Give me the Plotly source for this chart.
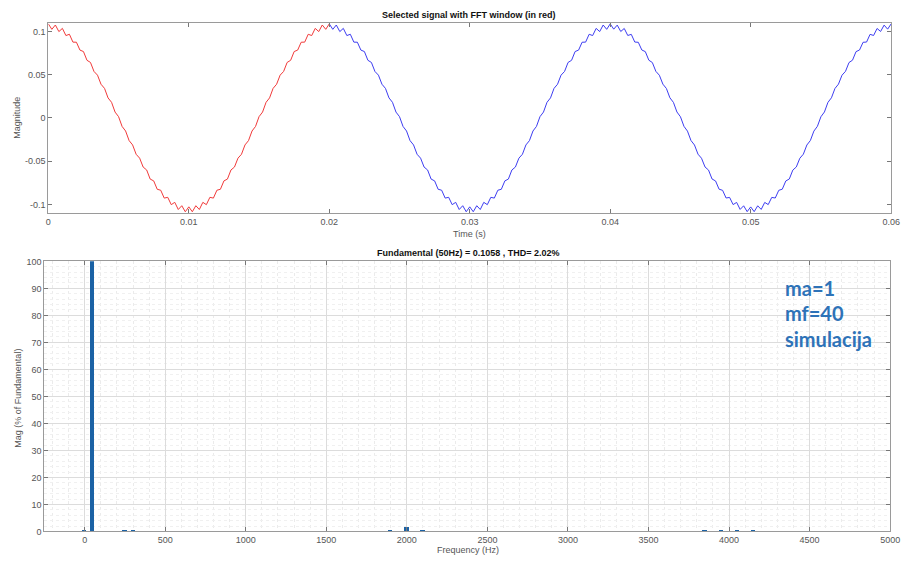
import plotly.graph_objects as go

# ---------------- data ----------------
sample_step = 0.00025  # s, sampling of the displayed signal

# FFT window (red) : 0 .. 0.02 s
signal_red = [
    0.1088, 0.1025, 0.1075, 0.0999, 0.1036, 0.0953, 0.0968, 0.0877, 0.0876, 0.0785,
    0.0768, 0.0667, 0.0642, 0.0538, 0.0495, 0.0390, 0.0342, 0.0232, 0.0181, 0.0068,
    0.0015, -0.0098, -0.0151, -0.0262, -0.0312, -0.0420, -0.0465, -0.0568, -0.0602, -0.0707,
    -0.0728, -0.0825, -0.0836, -0.0927, -0.0918, -0.1003, -0.0976, -0.1059, -0.1015, -0.1085,
    -0.1028, -0.1085, -0.1015, -0.1059, -0.0976, -0.1003, -0.0918, -0.0927, -0.0836, -0.0825,
    -0.0728, -0.0707, -0.0602, -0.0568, -0.0465, -0.0420, -0.0312, -0.0262, -0.0151, -0.0098,
    0.0015, 0.0068, 0.0181, 0.0232, 0.0342, 0.0390, 0.0495, 0.0538, 0.0642, 0.0667,
    0.0768, 0.0785, 0.0876, 0.0877, 0.0968, 0.0953, 0.1036, 0.0999, 0.1075, 0.1025,
    0.1088,
]
t_red_start = 0.0

# remainder of the signal (blue) : 0.02 .. 0.06 s
signal_blue = [
    0.1088, 0.1025, 0.1075, 0.0999, 0.1036, 0.0953, 0.0968, 0.0877, 0.0876, 0.0785,
    0.0768, 0.0667, 0.0642, 0.0538, 0.0495, 0.0390, 0.0342, 0.0232, 0.0181, 0.0068,
    0.0015, -0.0098, -0.0151, -0.0262, -0.0312, -0.0420, -0.0465, -0.0568, -0.0602, -0.0707,
    -0.0728, -0.0825, -0.0836, -0.0927, -0.0918, -0.1003, -0.0976, -0.1059, -0.1015, -0.1085,
    -0.1028, -0.1085, -0.1015, -0.1059, -0.0976, -0.1003, -0.0918, -0.0927, -0.0836, -0.0825,
    -0.0728, -0.0707, -0.0602, -0.0568, -0.0465, -0.0420, -0.0312, -0.0262, -0.0151, -0.0098,
    0.0015, 0.0068, 0.0181, 0.0232, 0.0342, 0.0390, 0.0495, 0.0538, 0.0642, 0.0667,
    0.0768, 0.0785, 0.0876, 0.0877, 0.0968, 0.0953, 0.1036, 0.0999, 0.1075, 0.1025,
    0.1088, 0.1027, 0.1074, 0.1000, 0.1035, 0.0954, 0.0967, 0.0878, 0.0875, 0.0786,
    0.0767, 0.0668, 0.0641, 0.0539, 0.0494, 0.0391, 0.0341, 0.0233, 0.0180, 0.0069,
    0.0014, -0.0097, -0.0152, -0.0261, -0.0313, -0.0419, -0.0466, -0.0567, -0.0603, -0.0706,
    -0.0729, -0.0824, -0.0837, -0.0926, -0.0919, -0.1002, -0.0977, -0.1058, -0.1016, -0.1084,
    -0.1029, -0.1084, -0.1016, -0.1058, -0.0977, -0.1002, -0.0919, -0.0926, -0.0837, -0.0824,
    -0.0729, -0.0706, -0.0603, -0.0567, -0.0466, -0.0419, -0.0313, -0.0261, -0.0152, -0.0097,
    0.0014, 0.0069, 0.0180, 0.0233, 0.0341, 0.0391, 0.0494, 0.0539, 0.0641, 0.0668,
    0.0767, 0.0786, 0.0875, 0.0878, 0.0967, 0.0954, 0.1035, 0.1000, 0.1074, 0.1027,
    0.1088,
]
t_blue_start = 0.02

time_ticks = [0, 0.01, 0.02, 0.03, 0.04, 0.05, 0.06]
time_tick_labels = ["0", "0.01", "0.02", "0.03", "0.04", "0.05", "0.06"]
mag_ticks = [-0.1, -0.05, 0, 0.05, 0.1]
mag_tick_labels = ["-0.1", "-0.05", "0", "0.05", "0.1"]

# FFT spectrum (% of fundamental)
harm_freq = [0, 50, 250, 300, 1900, 2000, 2100, 3850, 3950, 4050, 4150]
harm_mag = [0.5, 100, 0.25, 0.25, 0.5, 1.7, 0.5, 0.2, 0.2, 0.2, 0.2]

freq_ticks = [0, 500, 1000, 1500, 2000, 2500, 3000, 3500, 4000, 4500, 5000]
pct_ticks = [0, 10, 20, 30, 40, 50, 60, 70, 80, 90, 100]

title_top = "Selected signal with FFT window (in red)"
title_bottom = "Fundamental (50Hz) = 0.1058 , THD= 2.02%"
note_lines = ["ma=1", "mf=40", "simulacija"]

# ---------------- figure ----------------
W, H = 911, 562
t_red = [t_red_start + i * sample_step for i in range(len(signal_red))]
t_blue = [t_blue_start + i * sample_step for i in range(len(signal_blue))]

fig = go.Figure()
fig.add_trace(go.Scatter(x=t_blue, y=signal_blue, mode="lines",
                         line=dict(color="#3d3df0", width=1), xaxis="x", yaxis="y",
                         showlegend=False, hoverinfo="skip"))
fig.add_trace(go.Scatter(x=t_red, y=signal_red, mode="lines",
                         line=dict(color="#f03a3a", width=1), xaxis="x", yaxis="y",
                         showlegend=False, hoverinfo="skip"))
fig.add_trace(go.Bar(x=harm_freq, y=harm_mag, width=26,
                     marker=dict(color="#1b62a5", line=dict(width=0)),
                     xaxis="x2", yaxis="y2", showlegend=False, hoverinfo="skip"))

tick_font = dict(family="Liberation Sans, Arial, sans-serif", size=9, color="#555555")
frame = "#9a9a9a"


def px_x(v):
    return v / W


def px_y(v):
    return 1 - v / H


common = dict(showline=True, linecolor=frame, linewidth=1, mirror="ticks",
              ticks="inside", ticklen=4, tickcolor="#777777", tickfont=tick_font,
              zeroline=False)

fig.update_layout(
    width=W, height=H,
    margin=dict(l=0, r=0, t=0, b=0),
    paper_bgcolor="white", plot_bgcolor="white",
    bargap=0,
    xaxis=dict(domain=[px_x(46), px_x(901)], range=[0, 0.06], tickvals=time_ticks,
               ticktext=time_tick_labels, showgrid=False, anchor="y", **common),
    yaxis=dict(domain=[px_y(212), px_y(18)], range=[-0.1102, 0.1102], tickvals=mag_ticks,
               ticktext=mag_tick_labels, showgrid=False, anchor="x", **common),
    xaxis2=dict(domain=[px_x(42), px_x(900)], range=[-250, 5000], tickvals=freq_ticks,
                showgrid=True, gridcolor="#dcdcdc", gridwidth=1, anchor="y2",
                minor=dict(dtick=100, showgrid=True, gridcolor="#ebebeb", griddash="dot"),
                **common),
    yaxis2=dict(domain=[px_y(536), px_y(261)], range=[0, 100], tickvals=pct_ticks,
                showgrid=True, gridcolor="#dcdcdc", gridwidth=1, anchor="x2",
                minor=dict(dtick=2, showgrid=True, gridcolor="#f0f0f0", griddash="dot"),
                **common),
)

label_font = dict(family="Liberation Sans, Arial, sans-serif", size=9, color="#555555")
title_font = dict(family="Liberation Sans, Arial, sans-serif", size=9, color="#111111")

ann = [
    dict(text="<b>" + title_top + "</b>", x=px_x(473), y=px_y(10), font=title_font),
    dict(text="Time (s)", x=px_x(473), y=px_y(233), font=label_font),
    dict(text="Magnitude", x=px_x(14), y=px_y(115), font=label_font, textangle=-90),
    dict(text="<b>" + title_bottom + "</b>", x=px_x(472), y=px_y(253), font=title_font),
    dict(text="Frequency (Hz)", x=px_x(472), y=px_y(555), font=label_font),
    dict(text="Mag (% of Fundamental)", x=px_x(15), y=px_y(400), font=label_font,
         textangle=-90),
]
for a in ann:
    a.update(xref="paper", yref="paper", showarrow=False, xanchor="center", yanchor="middle")
    fig.add_annotation(**a)

note_y = [288, 314, 340]
for line, yy in zip(note_lines, note_y):
    fig.add_annotation(text="<b>" + line + "</b>", x=px_x(791), y=px_y(yy), xref="paper",
                       yref="paper", showarrow=False, xanchor="left", yanchor="middle",
                       font=dict(family="Lato, Noto Sans, sans-serif", size=20,
                                 color="#2e73b8"))

# the page's default 8px body margin would push the fixed-size figure off-screen
fig.write_html("out.html", config={"displayModeBar": False},
               post_script="document.body.style.margin='0px';")
